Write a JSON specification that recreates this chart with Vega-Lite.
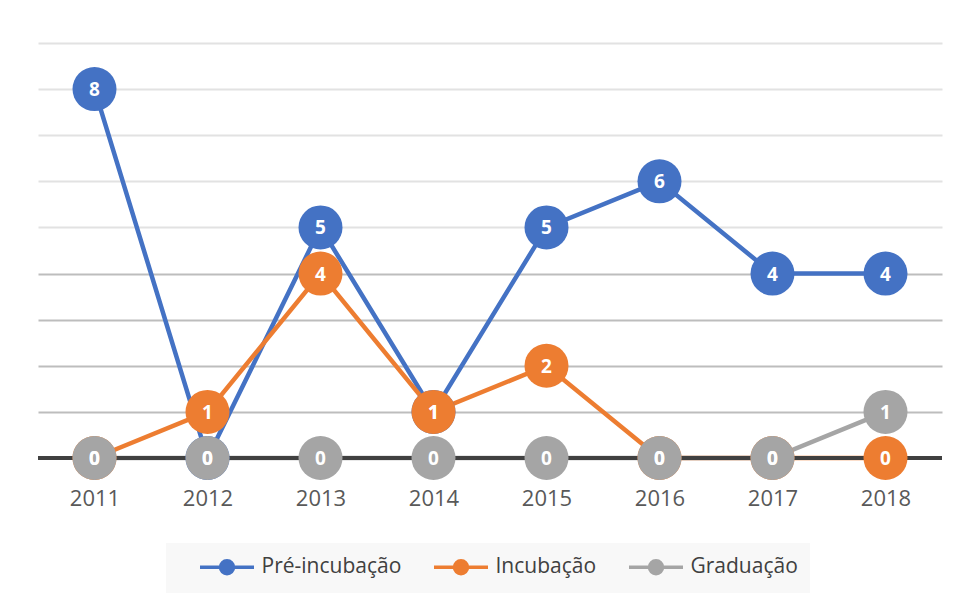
{
  "$schema": "https://vega.github.io/schema/vega-lite/v6.json",
  "width": 904,
  "height": 415,
  "padding": {"left": 38, "top": 43, "right": 16, "bottom": 139},
  "autosize": {"type": "none"},
  "background": "white",
  "config": {"view": {"stroke": null}, "font": "Open Sans"},
  "data": {
    "values": [
      {"ano": "2011", "serie": "Pré-incubação", "valor": 8},
      {"ano": "2012", "serie": "Pré-incubação", "valor": 0},
      {"ano": "2013", "serie": "Pré-incubação", "valor": 5},
      {"ano": "2014", "serie": "Pré-incubação", "valor": 1},
      {"ano": "2015", "serie": "Pré-incubação", "valor": 5},
      {"ano": "2016", "serie": "Pré-incubação", "valor": 6},
      {"ano": "2017", "serie": "Pré-incubação", "valor": 4},
      {"ano": "2018", "serie": "Pré-incubação", "valor": 4},
      {"ano": "2011", "serie": "Incubação", "valor": 0},
      {"ano": "2012", "serie": "Incubação", "valor": 1},
      {"ano": "2013", "serie": "Incubação", "valor": 4},
      {"ano": "2014", "serie": "Incubação", "valor": 1},
      {"ano": "2015", "serie": "Incubação", "valor": 2},
      {"ano": "2016", "serie": "Incubação", "valor": 0},
      {"ano": "2017", "serie": "Incubação", "valor": 0},
      {"ano": "2018", "serie": "Incubação", "valor": 0},
      {"ano": "2011", "serie": "Graduação", "valor": 0},
      {"ano": "2012", "serie": "Graduação", "valor": 0},
      {"ano": "2013", "serie": "Graduação", "valor": 0},
      {"ano": "2014", "serie": "Graduação", "valor": 0},
      {"ano": "2015", "serie": "Graduação", "valor": 0},
      {"ano": "2016", "serie": "Graduação", "valor": 0},
      {"ano": "2017", "serie": "Graduação", "valor": 0},
      {"ano": "2018", "serie": "Graduação", "valor": 1}
    ]
  },
  "encoding": {
    "x": {
      "field": "ano", "type": "ordinal",
      "scale": {"type": "point", "padding": 0.5},
      "axis": {
        "title": null, "domain": false, "ticks": false, "labelAngle": 0,
        "labelFont": "Open Sans", "labelFontSize": 22, "labelColor": "#595959",
        "labelPadding": 30, "grid": false
      }
    },
    "y": {
      "field": "valor", "type": "quantitative",
      "scale": {"domain": [0, 9], "nice": false, "zero": true},
      "axis": {
        "title": null, "domain": false, "ticks": false, "labels": false,
        "values": [1, 2, 3, 4, 5, 6, 7, 8, 9],
        "grid": true,
        "gridColor": {
          "condition": {"test": "datum.value <= 4", "value": "#bdbdbd"},
          "value": "#e2e2e2"
        },
        "gridWidth": 2
      }
    },
    "color": {
      "field": "serie", "type": "nominal",
      "scale": {
        "domain": ["Pré-incubação", "Incubação", "Graduação"],
        "range": ["#4472C4", "#ED7D31", "#A5A5A5"]
      },
      "legend": {
        "title": " ", "titleOrient": "left", "titleFontSize": 1, "titlePadding": 37,
        "orient": "none", "direction": "horizontal",
        "legendX": 128, "legendY": 500,
        "fillColor": "#f8f8f8", "padding": 12, "offset": 0,
        "labelFont": "Open Sans", "labelFontSize": 21, "labelColor": "#404040",
        "symbolType": "M-2.7,0H2.7M0.65,0A0.65,0.65,0,1,1,-0.65,0A0.65,0.65,0,1,1,0.65,0",
        "symbolSize": 400, "symbolStrokeWidth": 3.5,
        "columnPadding": 25, "labelOffset": 22.5,
        "encode": {"symbols": {"update": {"fill": {"scale": "color", "field": "value"}}}}
      }
    }
  },
  "layer": [
    {"mark": {"type": "line", "strokeWidth": 4.5}},
    {
      "mark": {"type": "rule", "color": "#404040", "strokeWidth": 3},
      "encoding": {"y": {"datum": 0}, "x": {"value": 0}, "x2": {"value": "width"}, "color": {"value": "#404040"}}
    },
    {"mark": {"type": "point", "filled": true, "opacity": 1, "size": 1936, "shape": "circle"}},
    {
      "mark": {"type": "text", "color": "white", "fontWeight": "bold", "fontSize": 19, "font": "Open Sans", "baseline": "middle", "align": "center", "dy": 1},
      "encoding": {"text": {"field": "valor", "type": "quantitative"}, "color": {"value": "white"}}
    }
  ]
}
